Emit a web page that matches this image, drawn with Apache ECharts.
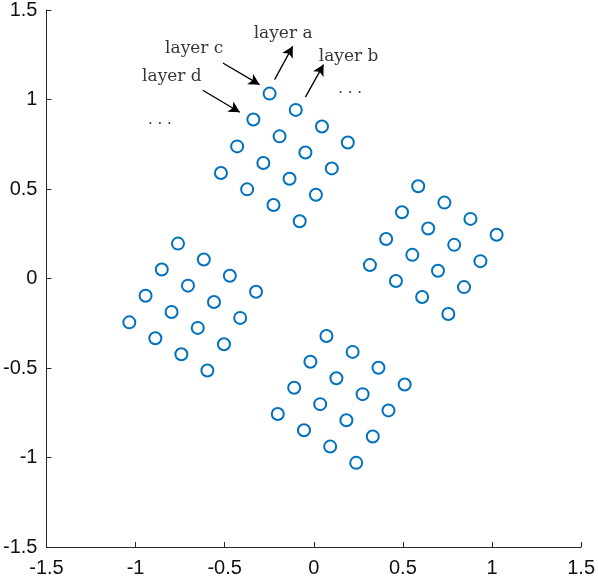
<!DOCTYPE html>
<html>
<head>
<meta charset="utf-8">
<script src="https://cdn.jsdelivr.net/npm/echarts@6/dist/echarts.min.js"></script>
<style>
html, body { margin: 0; padding: 0; background: #fff; }
#main { width: 598px; height: 579px; }
</style>
</head>
<body>
<div id="main"></div>
<script>
// point clusters
var clusterTop = [
    [-0.248, 1.033], [-0.101, 0.942], [0.046, 0.849], [0.191, 0.760],
    [-0.339, 0.888], [-0.192, 0.794], [-0.047, 0.704], [0.101, 0.615],
    [-0.430, 0.738], [-0.283, 0.645], [-0.136, 0.557], [0.012, 0.468],
    [-0.521, 0.589], [-0.374, 0.498], [-0.226, 0.411], [-0.079, 0.320]
];
var clusterRight = [
    [0.586, 0.515], [0.733, 0.424], [0.879, 0.333], [1.026, 0.244],
    [0.495, 0.370], [0.642, 0.279], [0.788, 0.188], [0.935, 0.097],
    [0.406, 0.221], [0.553, 0.132], [0.697, 0.043], [0.843, -0.048],
    [0.315, 0.075], [0.461, -0.014], [0.608, -0.103], [0.755, -0.198]
];
var clusterLeft = [
    [-0.762, 0.195], [-0.617, 0.106], [-0.471, 0.015], [-0.324, -0.074],
    [-0.853, 0.050], [-0.706, -0.040], [-0.560, -0.131], [-0.413, -0.220],
    [-0.944, -0.096], [-0.798, -0.187], [-0.651, -0.276], [-0.504, -0.367],
    [-1.035, -0.245], [-0.889, -0.334], [-0.743, -0.423], [-0.597, -0.514]
];
var clusterBottom = [
    [0.071, -0.321], [0.218, -0.410], [0.363, -0.499], [0.510, -0.592],
    [-0.019, -0.465], [0.127, -0.557], [0.274, -0.646], [0.419, -0.737],
    [-0.110, -0.610], [0.036, -0.702], [0.183, -0.792], [0.331, -0.883],
    [-0.202, -0.757], [-0.055, -0.848], [0.092, -0.939], [0.238, -1.030]
];

// annotations (text + position in data units)
var labelNames = ['layer a', 'layer b', 'layer c', 'layer d'];
var labelPos = [[-0.172, 1.366], [0.195, 1.241], [-0.671, 1.285], [-0.796, 1.128]];
var dotsPos = [[-0.864, 0.884], [0.204, 1.060]];
// arrows: [from, to]
var arrows = [
    [[-0.220, 1.111], [-0.118, 1.297]],   // layer a
    [[-0.047, 1.013], [0.055, 1.195]],    // layer b
    [[-0.510, 1.204], [-0.304, 1.083]],   // layer c
    [[-0.623, 1.052], [-0.415, 0.929]]    // layer d
];
var ticks = [-1.5, -1, -0.5, 0, 0.5, 1, 1.5];

var myChart = echarts.init(document.getElementById('main'));

var axisCommon = {
    type: 'value',
    min: ticks[0],
    max: ticks[ticks.length - 1],
    interval: 0.5,
    axisLine: { show: true, onZero: false, lineStyle: { color: '#262626', width: 1 } },
    axisTick: { show: true, inside: true, length: 5, lineStyle: { color: '#262626' } },
    splitLine: { show: false },
    axisLabel: {
        color: '#111',
        fontFamily: 'Liberation Sans',
        fontSize: 20
    }
};

var pointStyle = {
    type: 'scatter',
    symbol: 'circle',
    symbolSize: 12,
    itemStyle: { color: '#fff', borderColor: '#0072BD', borderWidth: 2, opacity: 1 },
    emphasis: { disabled: true },
    silent: true
};

var labelData = labelNames.map(function (n, i) {
    return { name: n, value: labelPos[i] };
});
dotsPos.forEach(function (p) {
    labelData.push({ name: '. . .', value: p, label: { fontSize: 15 } });
});

var option = {
    animation: false,
    grid: { left: 45, top: 8, right: 14, bottom: 32 },
    xAxis: echarts.util.merge({ axisLabel: { margin: 11 } }, axisCommon),
    yAxis: echarts.util.merge({ axisLabel: { margin: 9 } }, axisCommon),
    series: [
        echarts.util.merge({ data: clusterTop }, pointStyle),
        echarts.util.merge({ data: clusterRight }, pointStyle),
        echarts.util.merge({ data: clusterLeft }, pointStyle),
        echarts.util.merge({ data: clusterBottom }, pointStyle),
        {
            type: 'scatter',
            symbol: 'circle',
            symbolSize: 1,
            silent: true,
            itemStyle: { color: 'rgba(0,0,0,0)' },
            label: {
                show: true,
                position: 'inside',
                formatter: '{b}',
                color: '#000',
                fontFamily: 'DejaVu Serif',
                fontSize: 17
            },
            data: labelData,
            markLine: {
                silent: true,
                symbol: ['none', 'arrow'],
                symbolSize: [9, 11],
                label: { show: false },
                lineStyle: { color: '#000', width: 1.3, type: 'solid' },
                data: arrows.map(function (a) {
                    return [{ coord: a[0] }, { coord: a[1] }];
                })
            }
        }
    ]
};

myChart.setOption(option);
window.addEventListener('resize', function () {
    myChart.resize();
});
</script>
</body>
</html>
